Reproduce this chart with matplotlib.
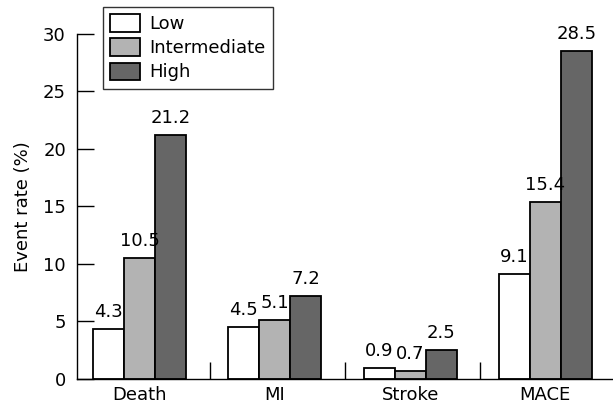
import numpy as np
import matplotlib.pyplot as plt

# Data
categories = ["Death", "MI", "Stroke", "MACE"]
groups = ["Low", "Intermediate", "High"]
low = [4.3, 4.5, 0.9, 9.1]
intermediate = [10.5, 5.1, 0.7, 15.4]
high = [21.2, 7.2, 2.5, 28.5]

series = [low, intermediate, high]
colors = ["white", "#b3b3b3", "#666666"]

fig = plt.figure(figsize=(6.13, 4.07), dpi=100)
ax = fig.add_axes([0.1256, 0.0695, 0.8744, 0.8475])

x = np.arange(len(categories))
w = 0.229
for i, (vals, c, name) in enumerate(zip(series, colors, groups)):
    pos = x + (i - 1) * w
    ax.bar(pos, vals, width=w, color=c, edgecolor="black", linewidth=1.3, label=name)
    for p, v in zip(pos, vals):
        ax.text(p, v + 0.7, f"{v:.1f}", ha="center", va="bottom", fontsize=13)

ax.set_xlim(-0.462, 3.5)
ax.set_ylim(0, 30)
ax.set_yticks([0, 5, 10, 15, 20, 25, 30])
ax.tick_params(axis="y", direction="in", length=12, width=1, labelsize=13, pad=8)
ax.set_xticks(x)
ax.set_xticklabels(categories)
ax.tick_params(axis="x", which="major", length=0, labelsize=13, pad=5)
ax.set_xticks([0.52, 1.52, 2.52], minor=True)
ax.tick_params(axis="x", which="minor", direction="in", length=12, width=1)

for s in ["top", "right"]:
    ax.spines[s].set_visible(False)
ax.spines["left"].set_linewidth(1)
ax.spines["bottom"].set_linewidth(1)

ax.set_ylabel("Event rate (%)", fontsize=13, labelpad=8)

leg = ax.legend(loc="upper left", bbox_to_anchor=(103 / 613, 1 - 7 / 407),
                bbox_transform=fig.transFigure, fontsize=13, frameon=True,
                fancybox=False, handlelength=1.65, handleheight=1.1,
                labelspacing=0.3, borderpad=0.4, handletextpad=0.5,
                borderaxespad=0)
leg.get_frame().set_edgecolor("black")
leg.get_frame().set_linewidth(1)

plt.savefig("out.png", dpi=100)
